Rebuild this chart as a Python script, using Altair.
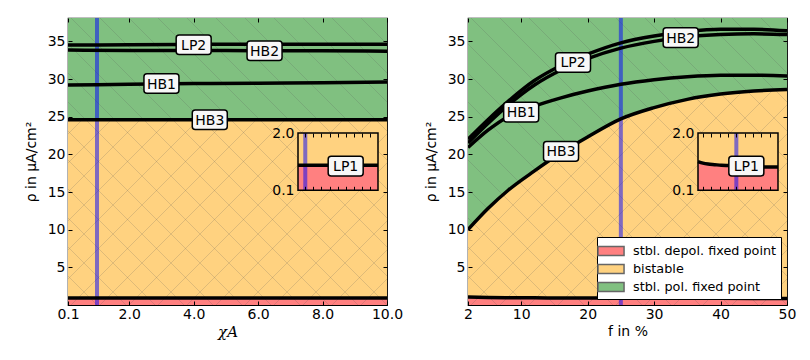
import altair as alt
import pandas as pd

# ---------------- data ----------------
# left panel: chi_A
chi = [0.1, 2.0, 4.0, 6.0, 8.0, 10.0]
chi_LP1 = [0.93, 0.93, 0.93, 0.93, 0.93, 0.93]
chi_LP2 = [34.5, 34.55, 34.6, 34.6, 34.6, 34.6]
chi_HB2 = [33.85, 33.8, 33.8, 33.75, 33.75, 33.7]
chi_HB1 = [29.2, 29.3, 29.4, 29.45, 29.5, 29.6]
chi_HB3 = [24.6, 24.6, 24.6, 24.6, 24.6, 24.6]
chi_marker = 1.0
chi_labels = ["LP2", "HB2", "HB1", "HB3"]
chi_label_x = [4.0, 6.2, 3.0, 4.5]
chi_label_y = [34.55, 33.75, 29.4, 24.6]
chi_inset_label = (6.0, 0.9)

# right panel: f in %
f = [2, 5, 8, 12, 16, 20, 25, 30, 35, 40, 45, 50]
f_LP1 = [1.05, 1.0, 0.97, 0.95, 0.93, 0.92, 0.91, 0.9, 0.89, 0.88, 0.87, 0.87]
f_LP2 = [22.0, 24.6, 27.0, 29.8, 31.8, 33.3, 34.8, 35.7, 36.3, 36.6, 36.6, 36.4]
f_HB2 = [21.5, 24.1, 26.5, 29.2, 31.2, 32.7, 34.1, 35.0, 35.6, 35.9, 36.0, 35.9]
f_HB1 = [20.9, 23.2, 25.0, 26.4, 27.5, 28.4, 29.3, 29.9, 30.3, 30.5, 30.5, 30.4]
f_HB3 = [10.0, 12.8, 15.2, 17.8, 20.2, 22.3, 24.7, 26.2, 27.3, 28.0, 28.4, 28.6]
f_marker = 25.0
f_labels = ["HB2", "LP2", "HB1", "HB3"]
f_label_x = [34.0, 17.8, 10.0, 16.0]
f_label_y = [35.5, 32.2, 25.6, 20.4]
f_inset_label = (31.0, 0.9)

regions = ["stbl. depol. fixed point", "bistable", "stbl. pol. fixed point"]
y_ticks = [5, 10, 15, 20, 25, 30, 35]
chi_ticks = [0.1, 2.0, 4.0, 6.0, 8.0, 10.0]
f_ticks = [2, 10, 20, 30, 40, 50]
chi_inset_ticks = [1, 2, 3, 4, 5, 6, 7, 8, 9]
f_inset_ticks = [5, 10, 15, 20, 25, 30, 35, 40, 45]

# ---------------- style ----------------
W, H = 319, 287
YTOP = 38.1
RED, ORANGE, GREEN = "#ff8080", "#ffd280", "#80c080"
FONT = "DejaVu Sans"
BOX = ("M-0.83,-0.56 H0.83 A0.17,0.17 0 0 1 1,-0.39 V0.39 "
       "A0.17,0.17 0 0 1 0.83,0.56 H-0.83 A0.17,0.17 0 0 1 -1,0.39 "
       "V-0.39 A0.17,0.17 0 0 1 -0.83,-0.56 Z")
INSET_X = [230, 310]
INSET_Y = [172.3, 115]


def hatch_df(direction, step=29.0):
    rows = []
    c = -H if direction == "back" else 0.0
    end = W if direction == "back" else W + H
    while c <= end:
        if direction == "back":
            rows.append({"hx": c, "hy": 0, "hx2": c + H, "hy2": H})
        else:
            rows.append({"hx": c, "hy": 0, "hx2": c - H, "hy2": H})
        c += step
    return pd.DataFrame(rows)


def hatch_layer(direction):
    return alt.Chart(hatch_df(direction)).mark_rule(
        color="#5a5a5a", opacity=0.2, strokeWidth=1, clip=True
    ).encode(
        x=alt.X("hx:Q", scale=None, axis=None),
        x2="hx2:Q",
        y=alt.Y("hy:Q", scale=None, axis=None),
        y2="hy2:Q",
    )


def panel(xs, lp1, lp2, hb2, hb1, hb3, xdom, xticks, xfmt, xtitle, xstyle,
          marker, labels, lx, ly, inset_lab, inset_ticks, with_legend):
    df = pd.DataFrame({"x": xs, "LP1": lp1, "LP2": lp2, "HB2": hb2,
                       "HB1": hb1, "HB3": hb3})
    df["zero"] = 0.0
    df["top"] = YTOP
    df["lo"] = 0.1
    df["hi"] = 2.0
    base = alt.Chart(df)
    xsc = alt.Scale(domain=xdom, nice=False, zero=False)
    ysc = alt.Scale(domain=[0, YTOP], nice=False, zero=False)
    X = alt.X("x:Q", scale=xsc, axis=None)

    def region_color(i, color):
        if with_legend:
            return alt.Color(
                "region:N",
                scale=alt.Scale(domain=regions, range=[RED, ORANGE, GREEN]),
                legend=alt.Legend(title=None),
            )
        return alt.value(color)

    red = base.transform_calculate(region=f'"{regions[0]}"').mark_area(
        interpolate="monotone").encode(
        x=alt.X("x:Q", scale=xsc,
                axis=alt.Axis(values=xticks, format=xfmt, title=xtitle,
                              offset=-4, tickSize=4, domain=False,
                              labelPadding=2, titlePadding=3, grid=False,
                              labelFlush=False, labelOverlap=False,
                              zindex=1, **xstyle)),
        y=alt.Y("zero:Q", scale=ysc,
                axis=alt.Axis(values=y_ticks, title="ρ in μA/cm²",
                              offset=-4, tickSize=4, domain=False,
                              labelPadding=3, titlePadding=9, grid=False,
                              labelFlush=False, zindex=1)),
        y2="LP1:Q",
        color=region_color(0, RED),
    )
    orange = base.transform_calculate(region=f'"{regions[1]}"').mark_area(
        interpolate="monotone").encode(
        x=alt.X("x:Q", scale=xsc,
                axis=alt.Axis(values=xticks, orient="top", offset=-4,
                              tickSize=4, domain=False, labels=False,
                              title=None, grid=False, zindex=1)),
        y=alt.Y("LP1:Q", scale=ysc,
                axis=alt.Axis(values=y_ticks, orient="right", offset=-4,
                              tickSize=4, domain=False, labels=False,
                              title=None, grid=False, zindex=1)),
        y2="HB3:Q",
        color=region_color(1, ORANGE),
    )
    green = base.transform_calculate(region=f'"{regions[2]}"').mark_area(
        interpolate="monotone").encode(
        x=X, y=alt.Y("HB3:Q", scale=ysc, axis=None), y2="top:Q",
        color=region_color(2, GREEN),
    )
    mk = pd.DataFrame({"x": [marker]})
    blue = alt.Chart(mk).mark_rule(color="blue", opacity=0.5,
                                   strokeWidth=4).encode(x=X)
    lines = base.transform_fold(
        ["LP1", "HB3", "HB1", "HB2", "LP2"], as_=["curve", "val"]
    ).mark_line(color="black", strokeWidth=3.5, interpolate="monotone",
                clip=True).encode(
        x=X, y=alt.Y("val:Q", scale=ysc, axis=None), detail="curve:N")
    lab = pd.DataFrame({"x": lx, "y": ly, "t": labels})
    boxes = alt.Chart(lab).mark_point(
        shape=BOX, size=1225, filled=True, fill="#f7f7f7", opacity=1,
        stroke="black", strokeWidth=1.5).encode(
        x=X, y=alt.Y("y:Q", scale=ysc, axis=None))
    texts = alt.Chart(lab).mark_text(
        font=FONT, fontSize=14, color="black", baseline="middle",
        align="center", dy=1).encode(
        x=X, y=alt.Y("y:Q", scale=ysc, axis=None), text="t:N")

    main = alt.layer(red, orange, hatch_layer("fwd"), green,
                     hatch_layer("back"), blue, lines, boxes, texts
                     ).resolve_axis(x="independent", y="independent")

    # ---------- inset ----------
    ixs = alt.Scale(domain=xdom, range=INSET_X, nice=False, zero=False)
    iys = alt.Scale(domain=[0.1, 2.0], range=INSET_Y, nice=False, zero=False)
    IX = alt.X("x:Q", scale=ixs, axis=None)
    i_red = base.mark_area(color=RED, interpolate="monotone").encode(
        x=alt.X("x:Q", scale=ixs,
                axis=alt.Axis(values=inset_ticks, orient="top",
                              offset=-119, tickSize=4, domain=False,
                              labels=False, title=None, grid=False,
                              zindex=2)),
        y=alt.Y("lo:Q", scale=iys,
                axis=alt.Axis(values=[0.1, 2.0], format=".1f", orient="left",
                              offset=-230, ticks=False, tickSize=0,
                              domain=False, labelPadding=4, title=None,
                              labelFlush=False, grid=False, zindex=2)),
        y2="LP1:Q")
    i_orange = base.mark_area(color=ORANGE, interpolate="monotone").encode(
        x=alt.X("x:Q", scale=ixs,
                axis=alt.Axis(values=inset_ticks, orient="bottom",
                              offset=-118.7, tickSize=4, domain=False,
                              labels=False, title=None, grid=False,
                              zindex=2)),
        y=alt.Y("LP1:Q", scale=iys, axis=None), y2="hi:Q")
    imk = pd.DataFrame({"x": [marker], "lo": [0.1], "hi": [2.0]})
    i_blue = alt.Chart(imk).mark_rule(color="blue", opacity=0.5,
                                      strokeWidth=4).encode(
        x=IX, y=alt.Y("lo:Q", scale=iys, axis=None), y2="hi:Q")
    i_line = base.mark_line(color="black", strokeWidth=3.5,
                            interpolate="monotone").encode(
        x=IX, y=alt.Y("LP1:Q", scale=iys, axis=None))
    frame_df = pd.DataFrame({"x": [xdom[0]], "x2": [xdom[1]],
                             "lo": [0.1], "hi": [2.0]})
    i_frame = alt.Chart(frame_df).mark_rect(
        fillOpacity=0, stroke="black", strokeWidth=1.5).encode(
        x=IX, x2="x2:Q", y=alt.Y("lo:Q", scale=iys, axis=None), y2="hi:Q")
    ilab = pd.DataFrame({"x": [inset_lab[0]], "y": [inset_lab[1]],
                         "t": ["LP1"]})
    i_box = alt.Chart(ilab).mark_point(
        shape=BOX, size=1225, filled=True, fill="#f7f7f7", opacity=1,
        stroke="black", strokeWidth=1.5).encode(
        x=IX, y=alt.Y("y:Q", scale=iys, axis=None))
    i_text = alt.Chart(ilab).mark_text(
        font=FONT, fontSize=14, color="black", baseline="middle",
        align="center", dy=1).encode(
        x=IX, y=alt.Y("y:Q", scale=iys, axis=None), text="t:N")
    inset = alt.layer(i_red, i_orange, i_blue, i_line, i_frame, i_box, i_text
                      ).resolve_axis(x="independent", y="independent")

    return alt.layer(main, inset).resolve_scale(
        x="independent", y="independent").properties(width=W, height=H)


left = panel(chi, chi_LP1, chi_LP2, chi_HB2, chi_HB1, chi_HB3, [0.1, 10.0],
             chi_ticks, ".1f", "χA",
             {"titleFont": "DejaVu Serif", "titleFontStyle": "italic",
              "titleFontSize": 15},
             chi_marker, chi_labels, chi_label_x,
             chi_label_y, chi_inset_label, chi_inset_ticks, False)
right = panel(f, f_LP1, f_LP2, f_HB2, f_HB1, f_HB3, [2, 50], f_ticks, "d",
              "f  in %", {}, f_marker, f_labels, f_label_x, f_label_y,
              f_inset_label, f_inset_ticks, True)

chart = alt.hconcat(left, right, spacing=81, bounds="flush").resolve_legend(
    color="independent"
).properties(
    padding={"left": 15, "top": 7, "right": 5, "bottom": 5}
).configure_view(
    stroke="black", strokeWidth=1.2
).configure_axis(
    labelFont=FONT, labelFontSize=14, labelColor="black",
    titleFont=FONT, titleFontSize=14, titleFontWeight="normal",
    titleColor="black", tickColor="black", tickWidth=1
).configure_legend(
    orient="bottom-right", offset=6, fillColor="white", strokeColor="black",
    strokeWidth=1, padding=4, labelFont=FONT, labelFontSize=12.8,
    labelColor="black", symbolType="M-1.45,-0.5 H1.45 V0.5 H-1.45 Z",
    symbolSize=324, symbolStrokeColor="#666666", symbolStrokeWidth=1.5,
    symbolOpacity=1, rowPadding=0, labelOffset=12, cornerRadius=0
)

chart.save("out.html", embed_options={"renderer": "svg", "actions": False})
